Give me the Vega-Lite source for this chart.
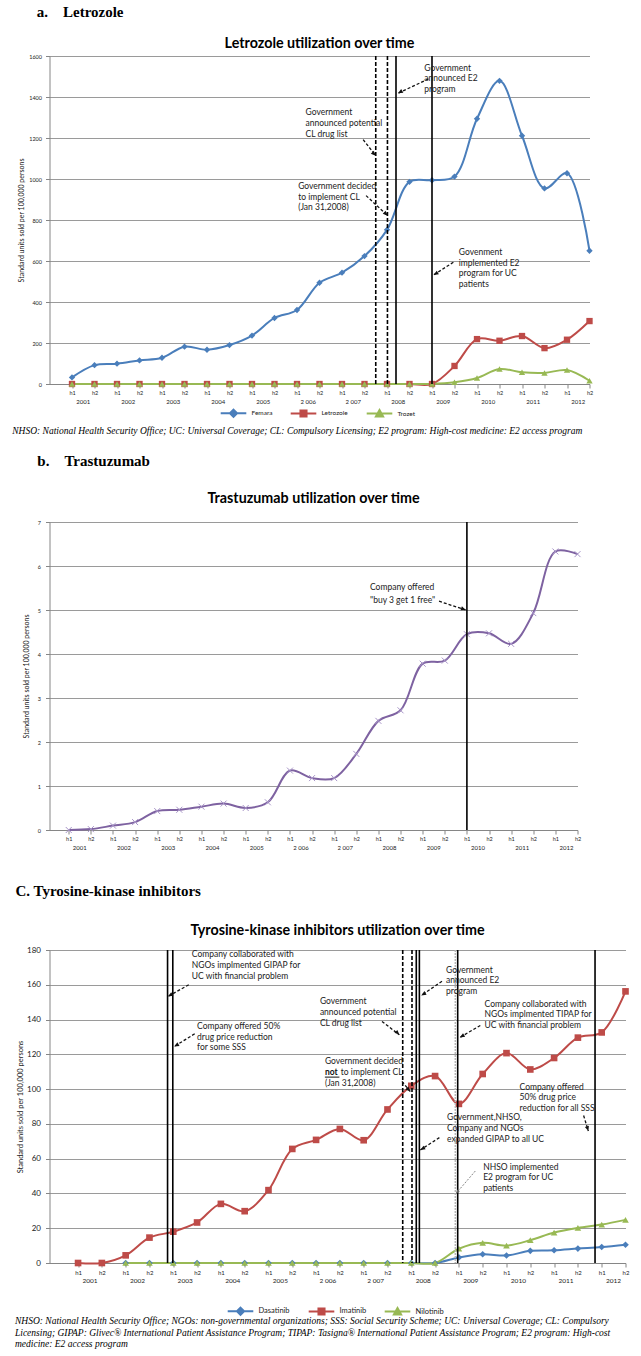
{
"$schema":"https://vega.github.io/schema/vega-lite/v6.json",
"background":"white",
"padding":{"left":11.5,"top":4,"right":5,"bottom":0},
"spacing":17,
"resolve":{"scale":{"x":"independent","y":"independent","color":"independent","strokeDash":"independent"},"legend":{"color":"independent"},"axis":{"x":"independent","y":"independent"}},
"config":{
 "view":{"stroke":null},
 "font":"Lato",
 "axis":{"labelFont":"Lato","labelFontSize":6,"labelColor":"#222","domainColor":"#868686","tickColor":"#868686","gridColor":"#9a9a9a","titleFont":"Lato","titleFontSize":7,"titleFontWeight":"normal","titleColor":"#222","labelOverlap":false,"labelBound":false},
 "legend":{"labelFont":"Lato","labelFontSize":7,"labelColor":"#222","layout":{"bottom":{"anchor":"middle"}}},
 "concat":{"spacing":6}
},
"datasets":{
 "a":[
  {"s":"Femara","i":0,"v":32},{"s":"Femara","i":1,"v":92},{"s":"Femara","i":2,"v":99},{"s":"Femara","i":3,"v":115},{"s":"Femara","i":4,"v":128},{"s":"Femara","i":5,"v":182},{"s":"Femara","i":6,"v":167},{"s":"Femara","i":7,"v":190},{"s":"Femara","i":8,"v":236},{"s":"Femara","i":9,"v":322},{"s":"Femara","i":10,"v":361},{"s":"Femara","i":11,"v":494},{"s":"Femara","i":12,"v":543},{"s":"Femara","i":13,"v":624},{"s":"Femara","i":14,"v":752},{"s":"Femara","i":15,"v":986},{"s":"Femara","i":16,"v":994},{"s":"Femara","i":17,"v":1012},{"s":"Femara","i":18,"v":1294},{"s":"Femara","i":19,"v":1479},{"s":"Femara","i":20,"v":1211},{"s":"Femara","i":21,"v":954},{"s":"Femara","i":22,"v":1028},{"s":"Femara","i":23,"v":650},
  {"s":"Letrozole","i":0,"v":0},{"s":"Letrozole","i":1,"v":0},{"s":"Letrozole","i":2,"v":0},{"s":"Letrozole","i":3,"v":0},{"s":"Letrozole","i":4,"v":0},{"s":"Letrozole","i":5,"v":0},{"s":"Letrozole","i":6,"v":0},{"s":"Letrozole","i":7,"v":0},{"s":"Letrozole","i":8,"v":0},{"s":"Letrozole","i":9,"v":0},{"s":"Letrozole","i":10,"v":0},{"s":"Letrozole","i":11,"v":0},{"s":"Letrozole","i":12,"v":0},{"s":"Letrozole","i":13,"v":0},{"s":"Letrozole","i":14,"v":0},{"s":"Letrozole","i":15,"v":0},{"s":"Letrozole","i":16,"v":0},{"s":"Letrozole","i":17,"v":88},{"s":"Letrozole","i":18,"v":219},{"s":"Letrozole","i":19,"v":211},{"s":"Letrozole","i":20,"v":234},{"s":"Letrozole","i":21,"v":175},{"s":"Letrozole","i":22,"v":216},{"s":"Letrozole","i":23,"v":307},
  {"s":"Trozet","i":0,"v":0},{"s":"Trozet","i":1,"v":0},{"s":"Trozet","i":2,"v":0},{"s":"Trozet","i":3,"v":0},{"s":"Trozet","i":4,"v":0},{"s":"Trozet","i":5,"v":0},{"s":"Trozet","i":6,"v":0},{"s":"Trozet","i":7,"v":0},{"s":"Trozet","i":8,"v":0},{"s":"Trozet","i":9,"v":0},{"s":"Trozet","i":10,"v":0},{"s":"Trozet","i":11,"v":0},{"s":"Trozet","i":12,"v":0},{"s":"Trozet","i":13,"v":0},{"s":"Trozet","i":14,"v":0},{"s":"Trozet","i":15,"v":0},{"s":"Trozet","i":16,"v":0},{"s":"Trozet","i":17,"v":8},{"s":"Trozet","i":18,"v":29},{"s":"Trozet","i":19,"v":73},{"s":"Trozet","i":20,"v":57},{"s":"Trozet","i":21,"v":54},{"s":"Trozet","i":22,"v":68},{"s":"Trozet","i":23,"v":16}
 ],
 "b":[
  {"i":0,"v":0},{"i":1,"v":0.02},{"i":2,"v":0.1},{"i":3,"v":0.18},{"i":4,"v":0.43},{"i":5,"v":0.46},{"i":6,"v":0.53},{"i":7,"v":0.6},{"i":8,"v":0.5},{"i":9,"v":0.63},{"i":10,"v":1.35},{"i":11,"v":1.18},{"i":12,"v":1.18},{"i":13,"v":1.73},{"i":14,"v":2.48},{"i":15,"v":2.72},{"i":16,"v":3.78},{"i":17,"v":3.85},{"i":18,"v":4.45},{"i":19,"v":4.47},{"i":20,"v":4.23},{"i":21,"v":4.93},{"i":22,"v":6.33},{"i":23,"v":6.27}
 ],
 "c":[
  {"s":"Dasatinib","i":2,"v":0},{"s":"Dasatinib","i":3,"v":0},{"s":"Dasatinib","i":4,"v":0},{"s":"Dasatinib","i":5,"v":0},{"s":"Dasatinib","i":6,"v":0},{"s":"Dasatinib","i":7,"v":0},{"s":"Dasatinib","i":8,"v":0},{"s":"Dasatinib","i":9,"v":0},{"s":"Dasatinib","i":10,"v":0},{"s":"Dasatinib","i":11,"v":0},{"s":"Dasatinib","i":12,"v":0},{"s":"Dasatinib","i":13,"v":0},{"s":"Dasatinib","i":14,"v":0},{"s":"Dasatinib","i":15,"v":0},{"s":"Dasatinib","i":16,"v":3.2},{"s":"Dasatinib","i":17,"v":5},{"s":"Dasatinib","i":18,"v":4.3},{"s":"Dasatinib","i":19,"v":7},{"s":"Dasatinib","i":20,"v":7.3},{"s":"Dasatinib","i":21,"v":8.3},{"s":"Dasatinib","i":22,"v":9.2},{"s":"Dasatinib","i":23,"v":10.5},
  {"s":"Imatinib","i":0,"v":0},{"s":"Imatinib","i":1,"v":0},{"s":"Imatinib","i":2,"v":4.4},{"s":"Imatinib","i":3,"v":14.6},{"s":"Imatinib","i":4,"v":18},{"s":"Imatinib","i":5,"v":23.3},{"s":"Imatinib","i":6,"v":34},{"s":"Imatinib","i":7,"v":29.8},{"s":"Imatinib","i":8,"v":41.9},{"s":"Imatinib","i":9,"v":65.6},{"s":"Imatinib","i":10,"v":70.8},{"s":"Imatinib","i":11,"v":77.1},{"s":"Imatinib","i":12,"v":70.6},{"s":"Imatinib","i":13,"v":88.3},{"s":"Imatinib","i":14,"v":101.9},{"s":"Imatinib","i":15,"v":107.5},{"s":"Imatinib","i":16,"v":91.5},{"s":"Imatinib","i":17,"v":108.7},{"s":"Imatinib","i":18,"v":120.7},{"s":"Imatinib","i":19,"v":111.3},{"s":"Imatinib","i":20,"v":117.9},{"s":"Imatinib","i":21,"v":129.6},{"s":"Imatinib","i":22,"v":132.6},{"s":"Imatinib","i":23,"v":156.2},
  {"s":"Nilotinib","i":2,"v":0},{"s":"Nilotinib","i":3,"v":0},{"s":"Nilotinib","i":4,"v":0},{"s":"Nilotinib","i":5,"v":0},{"s":"Nilotinib","i":6,"v":0},{"s":"Nilotinib","i":7,"v":0},{"s":"Nilotinib","i":8,"v":0},{"s":"Nilotinib","i":9,"v":0},{"s":"Nilotinib","i":10,"v":0},{"s":"Nilotinib","i":11,"v":0},{"s":"Nilotinib","i":12,"v":0},{"s":"Nilotinib","i":13,"v":0},{"s":"Nilotinib","i":14,"v":0},{"s":"Nilotinib","i":15,"v":0},{"s":"Nilotinib","i":16,"v":8.2},{"s":"Nilotinib","i":17,"v":11.6},{"s":"Nilotinib","i":18,"v":10},{"s":"Nilotinib","i":19,"v":13.1},{"s":"Nilotinib","i":20,"v":17.5},{"s":"Nilotinib","i":21,"v":20.2},{"s":"Nilotinib","i":22,"v":22.1},{"s":"Nilotinib","i":23,"v":24.8}
 ],
 "years":[
  {"i":0,"year":"2001"},{"i":2,"year":"2002"},{"i":4,"year":"2003"},{"i":6,"year":"2004"},{"i":8,"year":"2005"},{"i":10,"year":"2 006"},{"i":12,"year":"2 007"},{"i":14,"year":"2008"},{"i":16,"year":"2009"},{"i":18,"year":"2010"},{"i":20,"year":"2011"},{"i":22,"year":"2012"}
 ]
},
"vconcat":[
 {
  "title":{"text":"a.\u00a0\u00a0\u00a0\u00a0Letrozole","anchor":"start","dx":24.5,"offset":17,"font":"Liberation Serif","fontSize":15,"fontWeight":"bold","color":"#000"},
  "resolve":{"scale":{"color":"independent"},"legend":{"color":"independent"}},
  "vconcat":[
   {
    "title":{"text":"NHSO: National Health Security Office; UC: Universal Coverage; CL: Compulsory Licensing; E2 program: High-cost medicine: E2 access program","orient":"bottom","anchor":"start","dx":-5.5,"offset":5,"font":"Liberation Serif","fontSize":9.5,"fontStyle":"italic","fontWeight":"normal","color":"#000"},
    "resolve":{"scale":{"color":"independent"},"legend":{"color":"independent"}},
    "vconcat":[
     {
      "width":540,"height":328,
      "title":{"text":"Letrozole utilization over time","anchor":"middle","frame":"group","offset":3,"font":"Lato","fontSize":14.3,"fontWeight":"bold","color":"#000"},
      "layer":[
       {
        "data":{"name":"a"},
        "mark":{"type":"line","interpolate":"catmull-rom","strokeWidth":2},
        "encoding":{
         "x":{"field":"i","type":"quantitative","scale":{"domain":[-1,23],"nice":false,"zero":false},"axis":{"values":[0,1,2,3,4,5,6,7,8,9,10,11,12,13,14,15,16,17,18,19,20,21,22,23],"tickCount":40,"labelExpr":"datum.value % 2 == 0 ? 'h1' : 'h2'","title":null,"grid":false,"tickSize":4,"labelPadding":2,"labelFontSize":5.5,"labelFlush":false,"labelOverlap":false}},
         "y":{"field":"v","type":"quantitative","scale":{"domain":[0,1600],"nice":false},"axis":{"values":[0,200,400,600,800,1000,1200,1400,1600],"tickCount":40,"format":"d","title":"Standard  units sold per 100,000 persons","grid":true,"tickSize":4,"labelPadding":4,"labelFontSize":5.5,"titlePadding":4}},
         "color":{"field":"s","type":"nominal","scale":{"domain":["Femara","Letrozole","Trozet"],"range":["#4A7EBB","#BE4B48","#98B954"]},"legend":{"title":null,"orient":"bottom","direction":"horizontal","symbolSize":256,"columnPadding":14,"labelOffset":9,"labelFontSize":6.5,"offset":8,"encode":{"symbols":{"update":{"shape":{"signal":"datum.value === 'Femara' ? 'M-1.6,0H1.6M0,-0.45L0.45,0L0,0.45L-0.45,0Z' : datum.value === 'Letrozole' ? 'M-1.6,0H1.6M-0.38,-0.38H0.38V0.38H-0.38Z' : 'M-1.6,0H1.6M0,-0.45L0.45,0.36H-0.45Z'"},"stroke":{"signal":"datum.value === 'Femara' ? '#4A7EBB' : datum.value === 'Letrozole' ? '#BE4B48' : '#98B954'"},"fill":{"signal":"datum.value === 'Femara' ? '#4A7EBB' : datum.value === 'Letrozole' ? '#BE4B48' : '#98B954'"},"strokeWidth":{"value":2},"opacity":{"value":1}}}}}}
        }
       },
       {
        "data":{"name":"a"},
        "transform":[{"filter":"datum.s === 'Femara'"}],
        "mark":{"type":"point","filled":true,"size":40,"opacity":1,"shape":"diamond"},
        "encoding":{"x":{"field":"i","type":"quantitative"},"y":{"field":"v","type":"quantitative"},"color":{"field":"s","type":"nominal"}}
       },
       {
        "data":{"name":"a"},
        "transform":[{"filter":"datum.s === 'Letrozole'"}],
        "mark":{"type":"point","filled":true,"size":40,"opacity":1,"shape":"square"},
        "encoding":{"x":{"field":"i","type":"quantitative"},"y":{"field":"v","type":"quantitative"},"color":{"field":"s","type":"nominal"}}
       },
       {
        "data":{"name":"a"},
        "transform":[{"filter":"datum.s === 'Trozet'"}],
        "mark":{"type":"point","filled":true,"size":40,"opacity":1,"shape":"triangle-up"},
        "encoding":{"x":{"field":"i","type":"quantitative"},"y":{"field":"v","type":"quantitative"},"color":{"field":"s","type":"nominal"}}
       },
       {
        "data":{"values":[{"i":13.5,"k":"d"},{"i":14.02,"k":"d"},{"i":14.4,"k":"s"},{"i":16.0,"k":"s"}]},
        "mark":{"type":"rule","color":"#000","strokeWidth":1.6},
        "encoding":{"x":{"field":"i","type":"quantitative"},"strokeDash":{"field":"k","type":"nominal","scale":{"domain":["s","d"],"range":[[1,0],[4,2]]},"legend":null}}
       },
       {
        "data":{"name":"years"},
        "mark":{"type":"text","dx":11.24,"dy":18,"fontSize":6,"font":"Lato","color":"#222"},
        "encoding":{"x":{"field":"i","type":"quantitative"},"y":{"datum":0},"text":{"field":"year"}}
       },
       {
        "data":{"values":[
         {"i":15.66,"v":1563,"t":"Government\nannounced E2\nprogram"},
         {"i":10.38,"v":1344,"t":"Government\nannounced potential\nCL drug list"},
         {"i":10.05,"v":985,"t":"Government decided\nto implement CL\n (Jan 31,2008)"},
         {"i":17.19,"v":663,"t":"Govenment\nimplemented E2\nprogram for  UC\npatients"}
        ]},
        "mark":{"type":"text","align":"left","baseline":"top","lineBreak":"\n","fontSize":8.5,"lineHeight":10.7,"font":"Lato","color":"#222"},
        "encoding":{"x":{"field":"i","type":"quantitative"},"y":{"field":"v","type":"quantitative"},"text":{"field":"t"}}
       },
       {
        "data":{"values":[
         {"i":15.84,"v":1488,"i2":14.49,"v2":1418,"d":"L30"},
         {"i":12.94,"v":1192,"i2":13.5,"v2":1114,"d":"R50"},
         {"i":13.07,"v":919,"i2":14.03,"v2":821,"d":"R50"},
         {"i":16.95,"v":594,"i2":16.07,"v2":532,"d":"L30"}
        ]},
        "layer":[
         {"mark":{"type":"rule","strokeDash":[3,2],"strokeWidth":1.3,"color":"#111"},
          "encoding":{"x":{"field":"i","type":"quantitative"},"y":{"field":"v","type":"quantitative"},"x2":{"field":"i2"},"y2":{"field":"v2"}}},
         {"transform":[{"filter":"datum.d === 'L30'"}],
          "mark":{"type":"point","filled":true,"opacity":1,"color":"#111","size":49,"shape":"M0,0L0.91,-1.22L1.51,-0.18Z"},
          "encoding":{"x":{"field":"i2","type":"quantitative"},"y":{"field":"v2","type":"quantitative"}}},
         {"transform":[{"filter":"datum.d === 'R50'"}],
          "mark":{"type":"point","filled":true,"opacity":1,"color":"#111","size":49,"shape":"M0,0L-1.41,-0.57L-0.57,-1.41Z"},
          "encoding":{"x":{"field":"i2","type":"quantitative"},"y":{"field":"v2","type":"quantitative"}}}
        ]
       }
      ]
     }
    ]
   }
  ]
 },
 {
  "title":{"text":"b.\u00a0\u00a0\u00a0\u00a0Trastuzumab","anchor":"start","dx":15,"offset":23,"font":"Liberation Serif","fontSize":15,"fontWeight":"bold","color":"#000"},
  "vconcat":[
   {
    "title":{"text":"\u00a0","orient":"bottom","fontSize":2,"offset":14},
    "vconcat":[
     {
      "width":528,"height":308,
      "title":{"text":"Trastuzumab utilization over time","anchor":"middle","frame":"group","offset":14,"font":"Lato","fontSize":14.3,"fontWeight":"bold","color":"#000"},
      "layer":[
       {
        "data":{"name":"b"},
        "mark":{"type":"line","interpolate":"catmull-rom","strokeWidth":2,"color":"#7E62A1"},
        "encoding":{
         "x":{"field":"i","type":"quantitative","scale":{"domain":[-0.87,23],"nice":false,"zero":false},"axis":{"values":[0,1,2,3,4,5,6,7,8,9,10,11,12,13,14,15,16,17,18,19,20,21,22,23],"tickCount":40,"labelExpr":"datum.value % 2 == 0 ? 'h1' : 'h2'","title":null,"grid":false,"tickSize":4,"labelPadding":2,"labelFontSize":5.5,"labelFlush":false,"labelOverlap":false}},
         "y":{"field":"v","type":"quantitative","scale":{"domain":[0,7],"nice":false},"axis":{"values":[0,1,2,3,4,5,6,7],"tickCount":40,"format":"d","title":"Standard  units sold per 100,000 persons","grid":true,"tickSize":4,"labelPadding":5,"labelFontSize":5.5,"titlePadding":8}}
        }
       },
       {
        "data":{"name":"b"},
        "mark":{"type":"point","filled":false,"size":36,"opacity":1,"color":"#A895C8","strokeWidth":1,"shape":"M-1,-1L1,1M-1,1L1,-1"},
        "encoding":{"x":{"field":"i","type":"quantitative"},"y":{"field":"v","type":"quantitative"}}
       },
       {
        "data":{"values":[{"i":18.0,"k":"s"}]},
        "mark":{"type":"rule","color":"#000","strokeWidth":1.6},
        "encoding":{"x":{"field":"i","type":"quantitative"}}
       },
       {
        "data":{"name":"years"},
        "mark":{"type":"text","dx":11.05,"dy":18,"fontSize":6,"font":"Lato","color":"#222"},
        "encoding":{"x":{"field":"i","type":"quantitative"},"y":{"datum":0},"text":{"field":"year"}}
       },
       {
        "data":{"values":[{"i":13.62,"v":5.61,"t":"Company offered\n\"buy 3 get 1 free\""}]},
        "mark":{"type":"text","align":"left","baseline":"top","lineBreak":"\n","fontSize":8.5,"lineHeight":12.5,"font":"Lato","color":"#222"},
        "encoding":{"x":{"field":"i","type":"quantitative"},"y":{"field":"v","type":"quantitative"},"text":{"field":"t"}}
       },
       {
        "data":{"values":[{"i":16.74,"v":5.2,"i2":17.95,"v2":5.0,"d":"R20"}]},
        "layer":[
         {"mark":{"type":"rule","strokeDash":[3,2],"strokeWidth":1.3,"color":"#111"},
          "encoding":{"x":{"field":"i","type":"quantitative"},"y":{"field":"v","type":"quantitative"},"x2":{"field":"i2"},"y2":{"field":"v2"}}},
         {"mark":{"type":"point","filled":true,"opacity":1,"color":"#111","size":49,"shape":"M0,0L-1.52,0.09L-1.11,-1.04Z"},
          "encoding":{"x":{"field":"i2","type":"quantitative"},"y":{"field":"v2","type":"quantitative"}}}
        ]
       }
      ]
     }
    ]
   }
  ]
 },
 {
  "title":{"text":"C. Tyrosine-kinase inhibitors","anchor":"start","dx":0.5,"offset":24.5,"font":"Liberation Serif","fontSize":15,"fontWeight":"bold","color":"#000"},
  "resolve":{"scale":{"color":"independent"},"legend":{"color":"independent"}},
  "vconcat":[
   {
    "title":{"text":["NHSO: National Health Security Office; NGOs: non-governmental organizations; SSS: Social Security Scheme;  UC: Universal Coverage; CL: Compulsory","Licensing; GIPAP: Glivec\u00ae International Patient Assistance Program; TIPAP: Tasigna\u00ae International Patient Assistance Program;  E2 program: High-cost","medicine: E2 access program"],"orient":"bottom","anchor":"start","dx":-1.6,"offset":-3,"lineHeight":11.5,"font":"Liberation Serif","fontSize":9.5,"fontStyle":"italic","fontWeight":"normal","color":"#000"},
    "resolve":{"scale":{"color":"independent"},"legend":{"color":"independent"}},
    "vconcat":[
     {
      "width":576,"height":313,
      "title":{"text":"Tyrosine-kinase inhibitors utilization over time","anchor":"middle","frame":"group","offset":8,"font":"Lato","fontSize":14.3,"fontWeight":"bold","color":"#000"},
      "layer":[
       {
        "data":{"name":"c"},
        "mark":{"type":"line","interpolate":"catmull-rom","strokeWidth":2},
        "encoding":{
         "x":{"field":"i","type":"quantitative","scale":{"domain":[-1.2,23],"nice":false,"zero":false},"axis":{"values":[0,1,2,3,4,5,6,7,8,9,10,11,12,13,14,15,16,17,18,19,20,21,22,23],"tickCount":40,"labelExpr":"datum.value % 2 == 0 ? 'h1' : 'h2'","title":null,"grid":false,"tickSize":4,"labelPadding":2,"labelFontSize":6,"labelFlush":false,"labelOverlap":false}},
         "y":{"field":"v","type":"quantitative","scale":{"domain":[0,180],"nice":false},"axis":{"values":[0,20,40,60,80,100,120,140,160,180],"tickCount":40,"title":"Standard units sold per 100,000 persons","grid":true,"tickSize":4,"labelPadding":5,"titlePadding":2,"labelFontSize":8,"titleFontSize":7.5,"labelOverlap":false}},
         "color":{"field":"s","type":"nominal","scale":{"domain":["Dasatinib","Imatinib","Nilotinib"],"range":["#4A7EBB","#BE4B48","#98B954"]},"legend":{"title":null,"orient":"bottom","direction":"horizontal","symbolSize":256,"columnPadding":14,"labelOffset":9,"labelFontSize":7.5,"offset":27,"encode":{"symbols":{"update":{"shape":{"signal":"datum.value === 'Dasatinib' ? 'M-1.6,0H1.6M0,-0.45L0.45,0L0,0.45L-0.45,0Z' : datum.value === 'Imatinib' ? 'M-1.6,0H1.6M-0.38,-0.38H0.38V0.38H-0.38Z' : 'M-1.6,0H1.6M0,-0.45L0.45,0.36H-0.45Z'"},"stroke":{"signal":"datum.value === 'Dasatinib' ? '#4A7EBB' : datum.value === 'Imatinib' ? '#BE4B48' : '#98B954'"},"fill":{"signal":"datum.value === 'Dasatinib' ? '#4A7EBB' : datum.value === 'Imatinib' ? '#BE4B48' : '#98B954'"},"strokeWidth":{"value":2},"opacity":{"value":1}}}}}}
        }
       },
       {
        "data":{"name":"c"},
        "transform":[{"filter":"datum.s === 'Dasatinib'"}],
        "mark":{"type":"point","filled":true,"size":44,"opacity":1,"shape":"diamond"},
        "encoding":{"x":{"field":"i","type":"quantitative"},"y":{"field":"v","type":"quantitative"},"color":{"field":"s","type":"nominal"}}
       },
       {
        "data":{"name":"c"},
        "transform":[{"filter":"datum.s === 'Imatinib'"}],
        "mark":{"type":"point","filled":true,"size":44,"opacity":1,"shape":"square"},
        "encoding":{"x":{"field":"i","type":"quantitative"},"y":{"field":"v","type":"quantitative"},"color":{"field":"s","type":"nominal"}}
       },
       {
        "data":{"name":"c"},
        "transform":[{"filter":"datum.s === 'Nilotinib'"}],
        "mark":{"type":"point","filled":true,"size":44,"opacity":1,"shape":"triangle-up"},
        "encoding":{"x":{"field":"i","type":"quantitative"},"y":{"field":"v","type":"quantitative"},"color":{"field":"s","type":"nominal"}}
       },
       {
        "data":{"values":[{"i":3.76,"k":"s"},{"i":3.98,"k":"s"},{"i":13.64,"k":"d"},{"i":14.03,"k":"d"},{"i":14.21,"k":"s"},{"i":14.34,"k":"s"},{"i":15.95,"k":"s"},{"i":21.72,"k":"s"}]},
        "mark":{"type":"rule","color":"#000","strokeWidth":1.6},
        "encoding":{"x":{"field":"i","type":"quantitative"},"strokeDash":{"field":"k","type":"nominal","scale":{"domain":["s","d"],"range":[[1,0],[4,2]]},"legend":null}}
       },
       {
        "data":{"values":[{"i":15.85}]},
        "mark":{"type":"rule","color":"#b8b8b8","strokeWidth":1.5,"strokeDash":[2,1]},
        "encoding":{"x":{"field":"i","type":"quantitative"}}
       },
       {
        "data":{"name":"years"},
        "mark":{"type":"text","dx":11.9,"dy":18,"fontSize":6.5,"font":"Lato","color":"#222"},
        "encoding":{"x":{"field":"i","type":"quantitative"},"y":{"datum":0},"text":{"field":"year"}}
       },
       {
        "data":{"values":[
         {"i":4.78,"v":179.8,"t":"Company collaborated with\nNGOs implmented GIPAP for\nUC with financial problem"},
         {"i":5.0,"v":138.7,"t":"Company offered 50%\ndrug  price reduction\nfor some SSS"},
         {"i":10.16,"v":152.9,"t":"Government\nannounced  potential\nCL drug list"},
         {"i":15.46,"v":171.0,"t":"Government\nannounced E2\nprogram"},
         {"i":17.08,"v":151.4,"t":"Company collaborated with\nNGOs implmented TIPAP for\nUC with financial problem"},
         {"i":10.37,"v":118.4,"t":"Government decided"},
         {"i":11.04,"v":112.2,"t":"to implement CL"},
         {"i":10.37,"v":105.8,"t":"(Jan 31,2008)"},
         {"i":18.55,"v":103.8,"t":"Company offered\n50% drug  price\nreduction for all SSS"},
         {"i":15.5,"v":86.1,"t":"Government,NHSO,\nCompany and NGOs\nexpanded  GIPAP to all UC"},
         {"i":17.02,"v":57.7,"t":"NHSO implemented\nE2 program for UC\npatients"}
        ]},
        "mark":{"type":"text","align":"left","baseline":"top","lineBreak":"\n","fontSize":8.5,"lineHeight":10.7,"font":"Lato","color":"#222"},
        "encoding":{"x":{"field":"i","type":"quantitative"},"y":{"field":"v","type":"quantitative"},"text":{"field":"t"}}
       },
       {
        "data":{"values":[{"i":10.37,"v":112.2,"t":"not"}]},
        "mark":{"type":"text","align":"left","baseline":"top","fontSize":8.5,"fontWeight":"bold","font":"Lato","color":"#111"},
        "encoding":{"x":{"field":"i","type":"quantitative"},"y":{"field":"v","type":"quantitative"},"text":{"field":"t"}}
       },
       {
        "data":{"values":[{"i":10.37,"v":106.9,"i2":10.98}]},
        "mark":{"type":"rule","color":"#111","strokeWidth":1},
        "encoding":{"x":{"field":"i","type":"quantitative"},"y":{"field":"v","type":"quantitative"},"x2":{"field":"i2"}}
       },
       {
        "data":{"values":[
         {"i":4.65,"v":160.0,"i2":3.78,"v2":153.3,"d":"L30"},
         {"i":4.9,"v":131.8,"i2":4.04,"v2":124.5,"d":"L30"},
         {"i":12.77,"v":138.9,"i2":13.5,"v2":131.2,"d":"R50"},
         {"i":15.29,"v":162.0,"i2":14.42,"v2":153.9,"d":"L30"},
         {"i":16.9,"v":136.6,"i2":16.04,"v2":129.7,"d":"L30"},
         {"i":13.61,"v":104.4,"i2":13.96,"v2":98.6,"d":"R50"},
         {"i":21.24,"v":84.8,"i2":21.44,"v2":75.9,"d":"D70"},
         {"i":15.18,"v":72.1,"i2":14.38,"v2":65.0,"d":"L30"}
        ]},
        "layer":[
         {"mark":{"type":"rule","strokeDash":[3,2],"strokeWidth":1.3,"color":"#111"},
          "encoding":{"x":{"field":"i","type":"quantitative"},"y":{"field":"v","type":"quantitative"},"x2":{"field":"i2"},"y2":{"field":"v2"}}},
         {"transform":[{"filter":"datum.d === 'L30'"}],
          "mark":{"type":"point","filled":true,"opacity":1,"color":"#111","size":49,"shape":"M0,0L0.91,-1.22L1.51,-0.18Z"},
          "encoding":{"x":{"field":"i2","type":"quantitative"},"y":{"field":"v2","type":"quantitative"}}},
         {"transform":[{"filter":"datum.d === 'R50'"}],
          "mark":{"type":"point","filled":true,"opacity":1,"color":"#111","size":49,"shape":"M0,0L-1.41,-0.57L-0.57,-1.41Z"},
          "encoding":{"x":{"field":"i2","type":"quantitative"},"y":{"field":"v2","type":"quantitative"}}},
         {"transform":[{"filter":"datum.d === 'D70'"}],
          "mark":{"type":"point","filled":true,"opacity":1,"color":"#111","size":49,"shape":"M0,0L-0.99,-1.16L0.15,-1.52Z"},
          "encoding":{"x":{"field":"i2","type":"quantitative"},"y":{"field":"v2","type":"quantitative"}}}
        ]
       },
       {
        "data":{"values":[{"i":16.69,"v":52.9,"i2":15.88,"v2":40.0}]},
        "layer":[
         {"mark":{"type":"rule","strokeDash":[2,1.5],"strokeWidth":0.8,"color":"#666"},
          "encoding":{"x":{"field":"i","type":"quantitative"},"y":{"field":"v","type":"quantitative"},"x2":{"field":"i2"},"y2":{"field":"v2"}}},
         {"mark":{"type":"point","filled":true,"opacity":1,"color":"#666","size":30,"shape":"M0,0L0.45,-1.45L1.37,-0.67Z"},
          "encoding":{"x":{"field":"i2","type":"quantitative"},"y":{"field":"v2","type":"quantitative"}}}
        ]
       }
      ]
     }
    ]
   }
  ]
 }
]
}
